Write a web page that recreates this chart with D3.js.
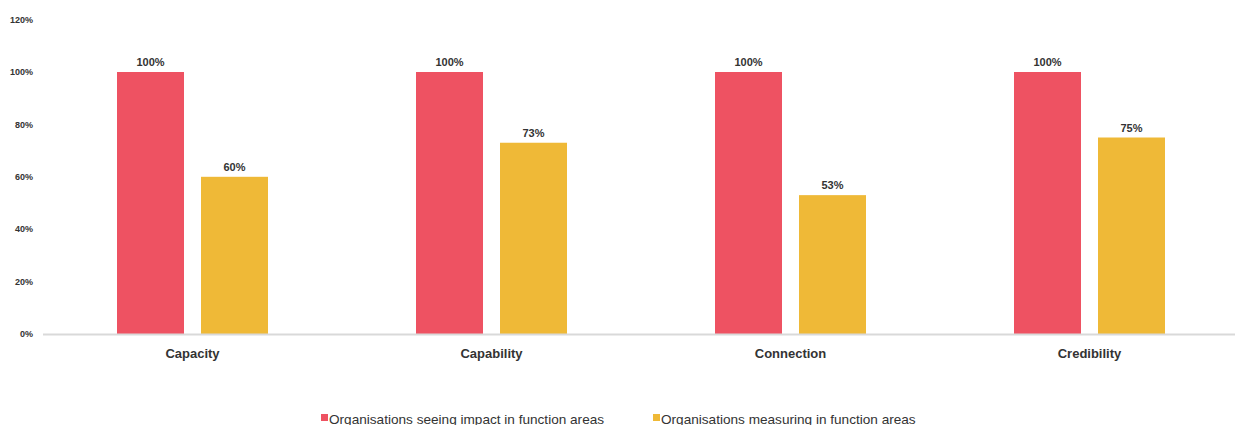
<!DOCTYPE html>
<html><head><meta charset="utf-8">
<script src="https://cdn.jsdelivr.net/npm/d3@7"></script>
<style>body{margin:0;background:#fff}svg{display:block;font-family:"Liberation Sans",Arial,Helvetica,sans-serif}</style>
</head><body>
<svg id="c" width="1235" height="425"></svg>
<script>
const categories = ["Capacity","Capability","Connection","Credibility"];
const seriesNames = ["Organisations seeing impact in function areas","Organisations measuring in function areas"];
const impactValues = [100,100,100,100];
const measuringValues = [60,73,53,75];
const yTicks = [0,20,40,60,80,100,120];
const colors = ["#EE5262","#EFB937"];

const svg = d3.select("#c");
const x0 = d3.scaleBand().domain(categories).range([43,1239]).padding(0);
const x1 = d3.scaleBand().domain([0,1]).range([74,225]).paddingInner(17/84);
const y = d3.scaleLinear().domain([0,120]).range([334,19.6]);

svg.append("g").selectAll("text").data(yTicks).join("text")
  .attr("x",33).attr("y",d=>y(d)).attr("dy","0.35em")
  .attr("text-anchor","end").attr("font-size",9).attr("font-weight","bold").attr("fill","#333")
  .text(d=>d+"%");

const series = [impactValues, measuringValues];
categories.forEach((c,i)=>{
  const g = svg.append("g").attr("transform",`translate(${x0(c)},0)`);
  series.forEach((vals,s)=>{
    g.append("rect").attr("x",x1(s)).attr("width",x1.bandwidth())
      .attr("y",y(vals[i])).attr("height",y(0)-y(vals[i])).attr("fill",colors[s]);
    g.append("text").attr("x",x1(s)+x1.bandwidth()/2).attr("y",y(vals[i])-6)
      .attr("text-anchor","middle").attr("font-size",11).attr("font-weight","bold").attr("fill","#333")
      .text(vals[i]+"%");
  });
});

svg.append("line").attr("x1",43).attr("x2",1235).attr("y1",y(0)+0.5).attr("y2",y(0)+0.5)
  .attr("stroke","#d9d9d9").attr("stroke-width",2);

svg.append("g").selectAll("text").data(categories).join("text")
  .attr("x",d=>x0(d)+x0.bandwidth()/2).attr("y",358)
  .attr("text-anchor","middle").attr("font-size",13).attr("font-weight","bold").attr("fill","#333")
  .text(d=>d);

const legX = [321,653];
seriesNames.forEach((n,s)=>{
  svg.append("rect").attr("x",legX[s]).attr("y",414).attr("width",7).attr("height",7).attr("fill",colors[s]);
  svg.append("text").attr("x",legX[s]+8).attr("y",423.5).attr("font-size",13.6).attr("fill","#333").text(n);
});
</script>
</body></html>
